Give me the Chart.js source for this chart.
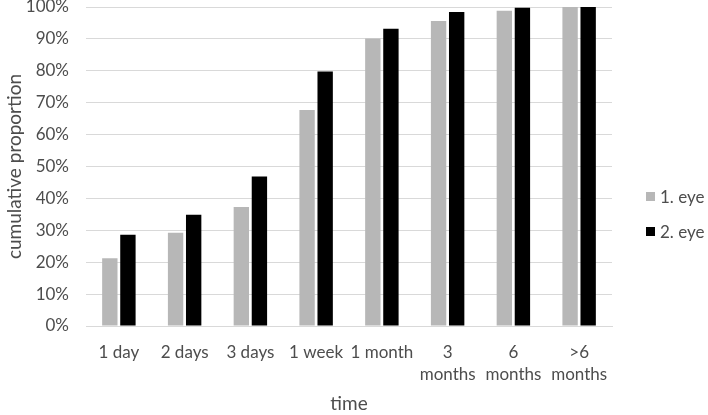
<!DOCTYPE html>
<html>
<head>
<meta charset="utf-8">
<script src="https://cdn.jsdelivr.net/npm/chart.js@4/dist/chart.umd.min.js"></script>
<style>
html,body{margin:0;padding:0;background:#fff;}
#wrap{width:708px;height:415px;}
</style>
</head>
<body>
<div id="wrap"><canvas id="c" width="708" height="415"></canvas></div>
<script>
const categories = ["1 day", "2 days", "3 days", "1 week", "1 month", ["3", "months"], ["6", "months"], [">6", "months"]];
const eye1 = [21.2, 29.2, 37.3, 67.7, 90.1, 95.6, 98.8, 100];
const eye2 = [28.6, 34.9, 46.9, 79.8, 93.2, 98.4, 99.8, 100];
const seriesNames = ["1. eye", "2. eye"];
const yTicks = [0, 10, 20, 30, 40, 50, 60, 70, 80, 90, 100];

const txt = '#4d4d4d';
const FONT = 'Lato';

const sideLegend = {
  id: 'sideLegend',
  afterDraw(chart) {
    const ctx = chart.ctx;
    const area = chart.chartArea;
    const n = chart.data.datasets.length;
    const gap = 35;
    const cy = 214;
    ctx.save();
    ctx.font = '17px ' + FONT;
    ctx.textBaseline = 'middle';
    ctx.textAlign = 'left';
    chart.data.datasets.forEach((ds, i) => {
      const y = cy + (i - (n - 1) / 2) * gap;
      const x = area.right + 34;
      ctx.fillStyle = ds.backgroundColor;
      ctx.fillRect(x, y - 4.5, 9, 9);
      ctx.fillStyle = txt;
      ctx.fillText(ds.label, x + 14, y + 1);
    });
    ctx.restore();
  }
};

new Chart(document.getElementById('c'), {
  type: 'bar',
  data: {
    labels: categories,
    datasets: [
      { label: seriesNames[0], data: eye1, backgroundColor: '#b7b7b7', categoryPercentage: 0.55, barPercentage: 0.85 },
      { label: seriesNames[1], data: eye2, backgroundColor: '#000000', categoryPercentage: 0.55, barPercentage: 0.85 }
    ]
  },
  plugins: [sideLegend],
  options: {
    responsive: false,
    animation: false,
    devicePixelRatio: 1,
    layout: { padding: { top: 0, right: 96, bottom: 0, left: 3 } },
    plugins: {
      legend: { display: false },
      tooltip: { enabled: false }
    },
    scales: {
      x: {
        afterFit: (s) => { s.height = 89; },
        grid: { display: false, drawTicks: false },
        border: { display: true, color: '#d9d9d9', width: 1 },
        ticks: { color: txt, font: { family: FONT, size: 17, lineHeight: 1.3 }, padding: 15, maxRotation: 0, autoSkip: false },
        title: { display: true, text: 'time', color: txt, font: { family: FONT, size: 19 }, padding: { top: 0, bottom: 0 } }
      },
      y: {
        min: 0, max: 100,
        afterBuildTicks: (s) => { s.ticks = yTicks.map(v => ({ value: v })); },
        afterFit: (s) => { s.paddingTop = 7; s.width = 83; },
        grid: { color: '#d9d9d9', drawTicks: false },
        border: { display: false },
        ticks: { color: txt, font: { family: FONT, size: 17 }, padding: 17, callback: (v) => v + '%' },
        title: { display: true, text: 'cumulative proportion', color: txt, font: { family: FONT, size: 19 }, padding: { top: 0, bottom: 0 } }
      }
    }
  }
});
</script>
</body>
</html>
